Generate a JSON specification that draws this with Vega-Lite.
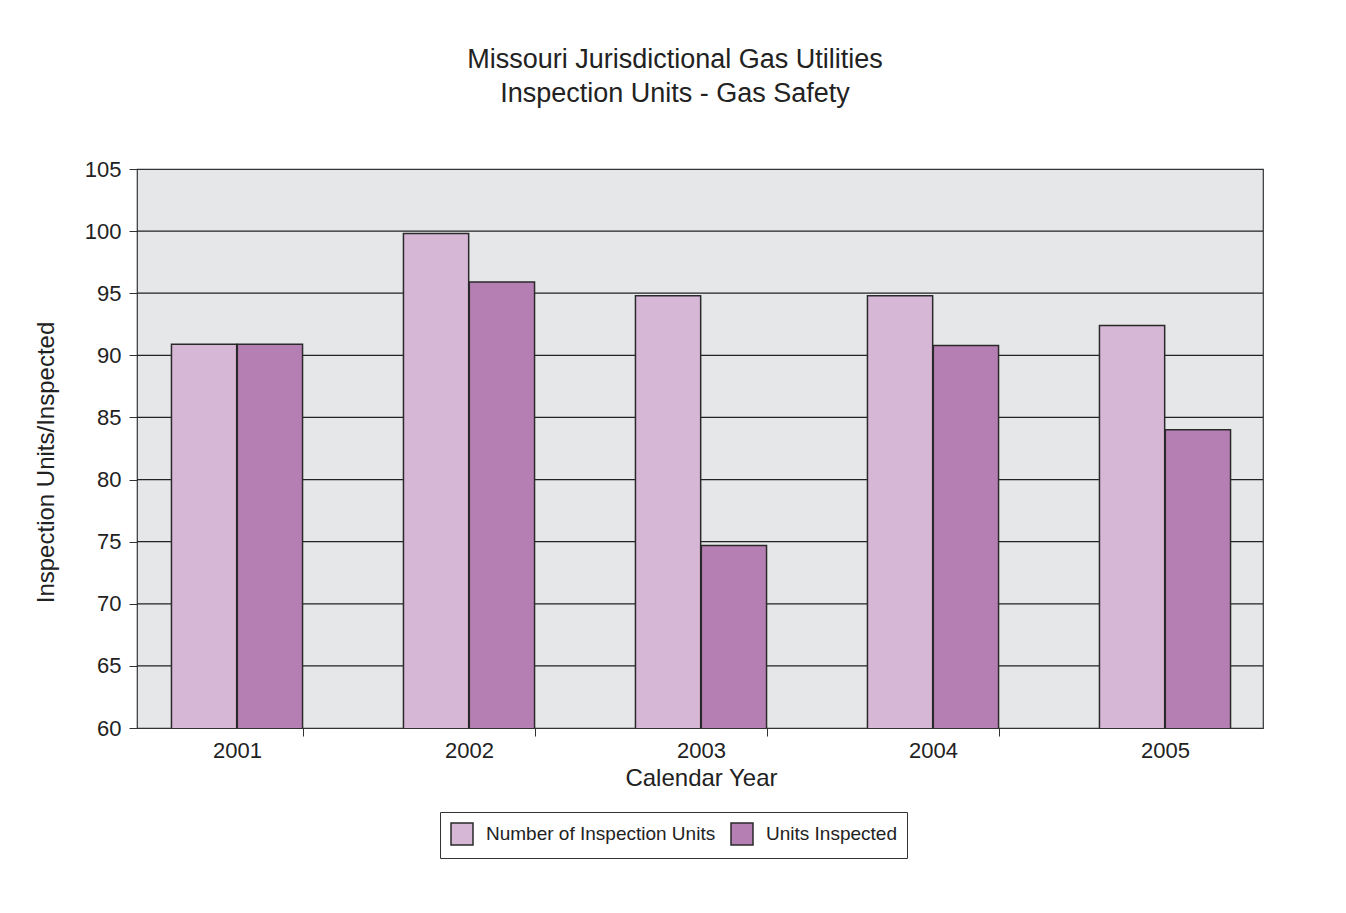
{
  "$schema": "https://vega.github.io/schema/vega-lite/v6.json",
  "autosize": {"type": "none"},
  "width": 1126,
  "height": 559,
  "padding": {"left": 137, "top": 169, "right": 83, "bottom": 185},
  "background": "white",
  "title": {
    "text": ["Missouri Jurisdictional Gas Utilities", "Inspection Units - Gas Safety"],
    "anchor": "middle",
    "dx": -25,
    "offset": 50,
    "fontSize": 27,
    "font": "Liberation Sans",
    "fontWeight": "normal",
    "color": "#222",
    "lineHeight": 34
  },
  "config": {
    "font": "Liberation Sans",
    "view": {"stroke": "#333", "strokeWidth": 1.2, "fill": "#e6e7e9"}
  },
  "data": {
    "values": [
      {"year": "2001", "series": "Number of Inspection Units", "value": 90.9},
      {"year": "2001", "series": "Units Inspected", "value": 90.9},
      {"year": "2002", "series": "Number of Inspection Units", "value": 99.8},
      {"year": "2002", "series": "Units Inspected", "value": 95.9},
      {"year": "2003", "series": "Number of Inspection Units", "value": 94.8},
      {"year": "2003", "series": "Units Inspected", "value": 74.7},
      {"year": "2004", "series": "Number of Inspection Units", "value": 94.8},
      {"year": "2004", "series": "Units Inspected", "value": 90.8},
      {"year": "2005", "series": "Number of Inspection Units", "value": 92.4},
      {"year": "2005", "series": "Units Inspected", "value": 84.0}
    ]
  },
  "layer": [
    {
      "data": {"values": [{"g": 65}, {"g": 70}, {"g": 75}, {"g": 80}, {"g": 85}, {"g": 90}, {"g": 95}, {"g": 100}]},
      "mark": {"type": "rule", "color": "#222", "strokeWidth": 1.2},
      "encoding": {
        "y": {"field": "g", "type": "quantitative"}
      }
    },
    {
      "mark": {"type": "bar", "stroke": "#2a2a2a", "strokeWidth": 1.5, "clip": true},
      "encoding": {
        "x": {
          "field": "year",
          "type": "nominal",
          "scale": {"range": [-16, 1144], "paddingInner": 0.435, "paddingOuter": 0.2175},
          "axis": {
            "title": "Calendar Year",
            "titleFontSize": 24,
            "titleFontWeight": "normal",
            "titleColor": "#222",
            "titlePadding": 5,
            "labelFontSize": 22,
            "labelColor": "#222",
            "labelAngle": 0,
            "labelPadding": 4,
            "domain": false,
            "tickBand": "extent",
            "tickSize": 8,
            "tickColor": "#333",
            "tickOpacity": {"condition": {"test": "datum.index < 0 || datum.value == '2005'", "value": 0}, "value": 1}
          }
        },
        "xOffset": {"field": "series", "type": "nominal", "scale": {"paddingInner": 0.01}},
        "y": {
          "field": "value",
          "type": "quantitative",
          "scale": {"domain": [60, 105], "zero": false, "nice": false},
          "axis": {
            "title": "Inspection Units/Inspected",
            "titleFontSize": 24,
            "titleFontWeight": "normal",
            "titleColor": "#222",
            "titlePadding": 26,
            "titleY": 293,
            "values": [60, 65, 70, 75, 80, 85, 90, 95, 100, 105],
            "labelFontSize": 22,
            "labelColor": "#222",
            "labelPadding": 8,
            "domain": false,
            "tickSize": 8,
            "tickColor": "#333",
            "grid": false
          }
        },
        "color": {
          "field": "series",
          "type": "nominal",
          "scale": {"domain": ["Number of Inspection Units", "Units Inspected"], "range": ["#d6b7d6", "#b67fb4"]},
          "legend": {
            "title": null,
            "orient": "none",
            "direction": "horizontal",
            "legendX": 303,
            "legendY": 643,
            "fillColor": "white",
            "strokeColor": "#333",
            "padding": 10,
            "symbolType": "square",
            "symbolSize": 484,
            "symbolStrokeColor": "#2a2a2a",
            "symbolStrokeWidth": 1.5,
            "symbolOpacity": 1,
            "labelFontSize": 19,
            "labelLimit": 0,
            "labelColor": "#222",
            "labelOffset": 12,
            "columnPadding": 12
          }
        }
      }
    }
  ]
}
